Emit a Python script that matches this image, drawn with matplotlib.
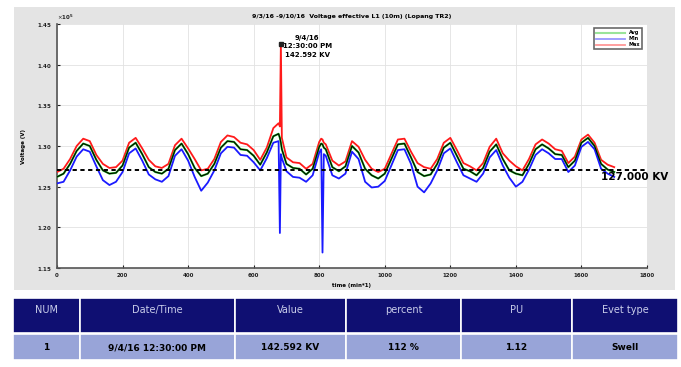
import matplotlib
matplotlib.use("Agg")
import matplotlib.pyplot as plt
from matplotlib.patches import Rectangle
from matplotlib.ticker import ScalarFormatter

# 10 minute samples, voltage in kV
t_min = [0, 20, 40, 60, 80, 100, 120, 140, 160, 180, 200, 220, 240, 260, 280, 300,
         320, 340, 360, 380, 400, 420, 440, 460, 480, 500, 520, 540, 560, 580, 600,
         620, 640, 660, 676, 680, 683, 686, 700, 720, 740, 760, 780, 800, 806, 810,
         814, 820, 840, 860, 880, 900, 920, 940, 960, 980, 1000, 1020, 1040, 1060,
         1080, 1100, 1120, 1140, 1160, 1180, 1200, 1220, 1240, 1260, 1280, 1300,
         1320, 1340, 1360, 1380, 1400, 1420, 1440, 1460, 1480, 1500, 1520, 1540,
         1560, 1580, 1600, 1620, 1640, 1660, 1680, 1700]
v_avg = [126.2, 126.6, 127.8, 129.4, 130.3, 130.0, 128.3, 127.0, 126.6, 126.7, 127.6,
         129.8, 130.4, 129.0, 127.4, 126.8, 126.6, 127.2, 129.5, 130.3, 129.0, 127.3,
         126.3, 126.6, 127.8, 129.8, 130.6, 130.5, 129.6, 129.5, 128.8, 127.7, 129.2,
         131.2, 131.5, 131.0, 130.4, 129.6, 127.8, 127.3, 127.2, 126.5, 127.2, 129.9,
         130.3, 130.2, 129.8, 129.6, 127.4, 126.9, 127.5, 130.0, 129.2, 127.2, 126.4,
         126.0, 126.6, 128.4, 130.2, 130.3, 128.6, 126.8, 126.3, 126.5, 127.8, 129.8,
         130.4, 128.8, 127.2, 126.9, 126.4, 127.3, 129.3, 130.2, 128.4, 127.0, 126.6,
         126.4, 127.8, 129.6, 130.2, 129.7, 129.0, 128.9, 127.4, 128.2, 130.4, 131.0,
         130.0, 127.8, 127.1, 126.8]
v_max = [126.8, 127.2, 128.4, 130.0, 130.9, 130.6, 128.9, 127.8, 127.3, 127.4, 128.2,
         130.4, 131.0, 129.7, 128.3, 127.5, 127.3, 127.8, 130.1, 130.9, 129.7, 128.4,
         127.0, 127.2, 128.4, 130.5, 131.3, 131.1, 130.4, 130.2, 129.5, 128.3, 129.8,
         132.2, 132.8, 132.4, 142.592, 131.0, 128.6, 128.0, 127.9, 127.2, 127.8, 130.5,
         130.9, 130.8, 130.4, 130.2, 128.2, 127.6, 128.1, 130.6, 129.9, 128.3, 127.2,
         126.8, 127.2, 129.0, 130.8, 130.9, 129.3, 127.9, 127.4, 127.2, 128.4, 130.4,
         131.0, 129.5, 127.9, 127.5, 127.0, 127.9, 129.9, 130.9, 129.1, 128.2, 127.5,
         127.0, 128.4, 130.2, 130.8, 130.3, 129.6, 129.4, 127.9, 128.7, 130.8, 131.4,
         130.4, 128.3, 127.7, 127.4]
v_min = [125.4, 125.6, 127.0, 128.7, 129.6, 129.3, 127.5, 125.8, 125.2, 125.6, 126.8,
         129.1, 129.7, 128.2, 126.5, 125.9, 125.6, 126.3, 128.8, 129.6, 128.2, 126.2,
         124.5, 125.5, 127.0, 129.1, 129.9, 129.8, 128.9, 128.8, 128.0, 127.0, 128.5,
         130.4, 130.6, 119.3, 129.0, 128.5, 126.9, 126.2, 126.1, 125.6, 126.4, 129.2,
         129.6, 116.9, 129.0, 128.8, 126.4, 126.0, 126.6, 129.3, 128.4, 125.6, 124.9,
         125.0, 125.7, 127.6, 129.5, 129.6, 127.8, 125.0, 124.3, 125.4, 127.0, 129.1,
         129.7, 128.0, 126.4, 126.0, 125.6, 126.6, 128.6, 129.5, 127.6, 126.1, 125.0,
         125.6, 127.1, 128.9, 129.6, 129.1, 128.4, 128.4, 126.8, 127.6, 129.9, 130.5,
         129.6, 127.2, 126.6, 126.2]

nominal_kv = 127.000
swell_t = 683
swell_kv = 142.592
swell_label = "9/4/16\n12:30:00 PM\n142.592 KV"

col_names = ["NUM", "Date/Time", "Value", "percent", "PU", "Evet type"]
row_vals = ["1", "9/4/16 12:30:00 PM", "142.592 KV", "112 %", "1.12", "Swell"]

W, H = 681, 367
fig = plt.figure(figsize=(W / 100, H / 100), dpi=100)
fig.patch.set_facecolor("white")

# background layer: grey matlab-style panel and the event table
tab = fig.add_axes([0, 0, 1, 1], facecolor="none", zorder=0)
tab.set_xlim(0, W)
tab.set_ylim(H, 0)
tab.axis("off")
tab.add_patch(Rectangle((14, 7), 661, 283, facecolor="#e4e4e4", edgecolor="none"))

edges = [13, 80, 235, 346, 461, 572, 678]
for i in range(len(col_names)):
    x0, x1 = edges[i], edges[i + 1]
    tab.add_patch(Rectangle((x0, 298), x1 - x0, 35, facecolor="#0f0f72",
                            edgecolor="white", lw=1.2))
    tab.add_patch(Rectangle((x0, 334), x1 - x0, 26, facecolor="#98a4d8",
                            edgecolor="white", lw=1.2))
    xc = (x0 + x1) / 2
    tab.text(xc, 310, col_names[i], color="#c9cdea", fontsize=7,
             ha="center", va="center")
    tab.text(xc, 348, row_vals[i], color="black", fontsize=6.5,
             fontweight="bold", ha="center", va="center")

ax = fig.add_axes([57 / W, 1 - 268 / H, 590 / W, 244 / H], zorder=1)
ax.set_facecolor("white")
ax.set_xlim(0, 1800)
ax.set_ylim(1.15e5, 1.45e5)
ax.set_xticks(range(0, 1801, 200))
ax.set_yticks([1.15e5, 1.2e5, 1.25e5, 1.3e5, 1.35e5, 1.4e5, 1.45e5])
ax.grid(True, color="#e2e2e2", lw=0.6)
ax.set_axisbelow(True)
for s in ["top", "right"]:
    ax.spines[s].set_visible(False)
for s in ["left", "bottom"]:
    ax.spines[s].set_color("#555555")
    ax.spines[s].set_linewidth(1.2)
ax.tick_params(direction="in", length=2, labelsize=4, colors="#222222", width=0.8)
for lab in ax.get_xticklabels() + ax.get_yticklabels():
    lab.set_fontweight("bold")

fmt = ScalarFormatter(useMathText=True)
fmt.set_powerlimits((0, 0))
ax.yaxis.set_major_formatter(fmt)
ax.yaxis.get_offset_text().set_fontsize(4)
ax.yaxis.get_offset_text().set_fontweight("bold")

kv = lambda vals: [v * 1000 for v in vals]
ax.plot(t_min, kv(v_max), color="#ff1a1a", lw=1.3, label="Max", zorder=3)
ax.plot(t_min, kv(v_avg), color="#1fc41f", lw=1.5, label="Avg", zorder=3)
ax.plot(t_min, kv(v_min), color="#1a1aff", lw=1.3, label="Min", zorder=3)
ax.plot(t_min, kv(v_avg), color="black", lw=0.8, zorder=4)

ax.axhline(nominal_kv * 1000, color="black", lw=1.4, ls=(0, (2.2, 1.8)), zorder=5)
ax.text(1762, nominal_kv * 1000 - 250, "%.3f KV" % nominal_kv, fontsize=7.5,
        fontweight="bold", ha="center", va="top", zorder=6, clip_on=False)

ax.plot([swell_t], [swell_kv * 1000], "s", color="#222222", ms=2.5, zorder=6)
ax.text(swell_t + 80, swell_kv * 1000 - 300, swell_label, fontsize=5,
        fontweight="bold", ha="center", va="center", linespacing=1.5, zorder=6)

handles, labels = ax.get_legend_handles_labels()
order = [1, 2, 0]
leg = ax.legend([handles[i] for i in order], [labels[i] for i in order],
                loc="upper right", fontsize=3.5, handlelength=6, frameon=True,
                borderpad=0.3, labelspacing=0.2, bbox_to_anchor=(0.995, 0.99))
leg.get_frame().set_edgecolor("#444444")
leg.get_frame().set_linewidth(1.2)
leg.get_frame().set_boxstyle("round", pad=0.1)
for line in leg.get_lines():
    line.set_alpha(0.45)
for txt in leg.get_texts():
    txt.set_fontweight("bold")

ax.set_title("9/3/16 -9/10/16  Voltage effective L1 (10m) (Lopang TR2)",
             fontsize=4.5, fontweight="bold", pad=4)
ax.set_ylabel("Voltage (V)", fontsize=4, fontweight="bold", labelpad=8)
ax.set_xlabel("time (min*1)", fontsize=4, fontweight="bold", labelpad=4)

fig.savefig("out.png", dpi=100)
